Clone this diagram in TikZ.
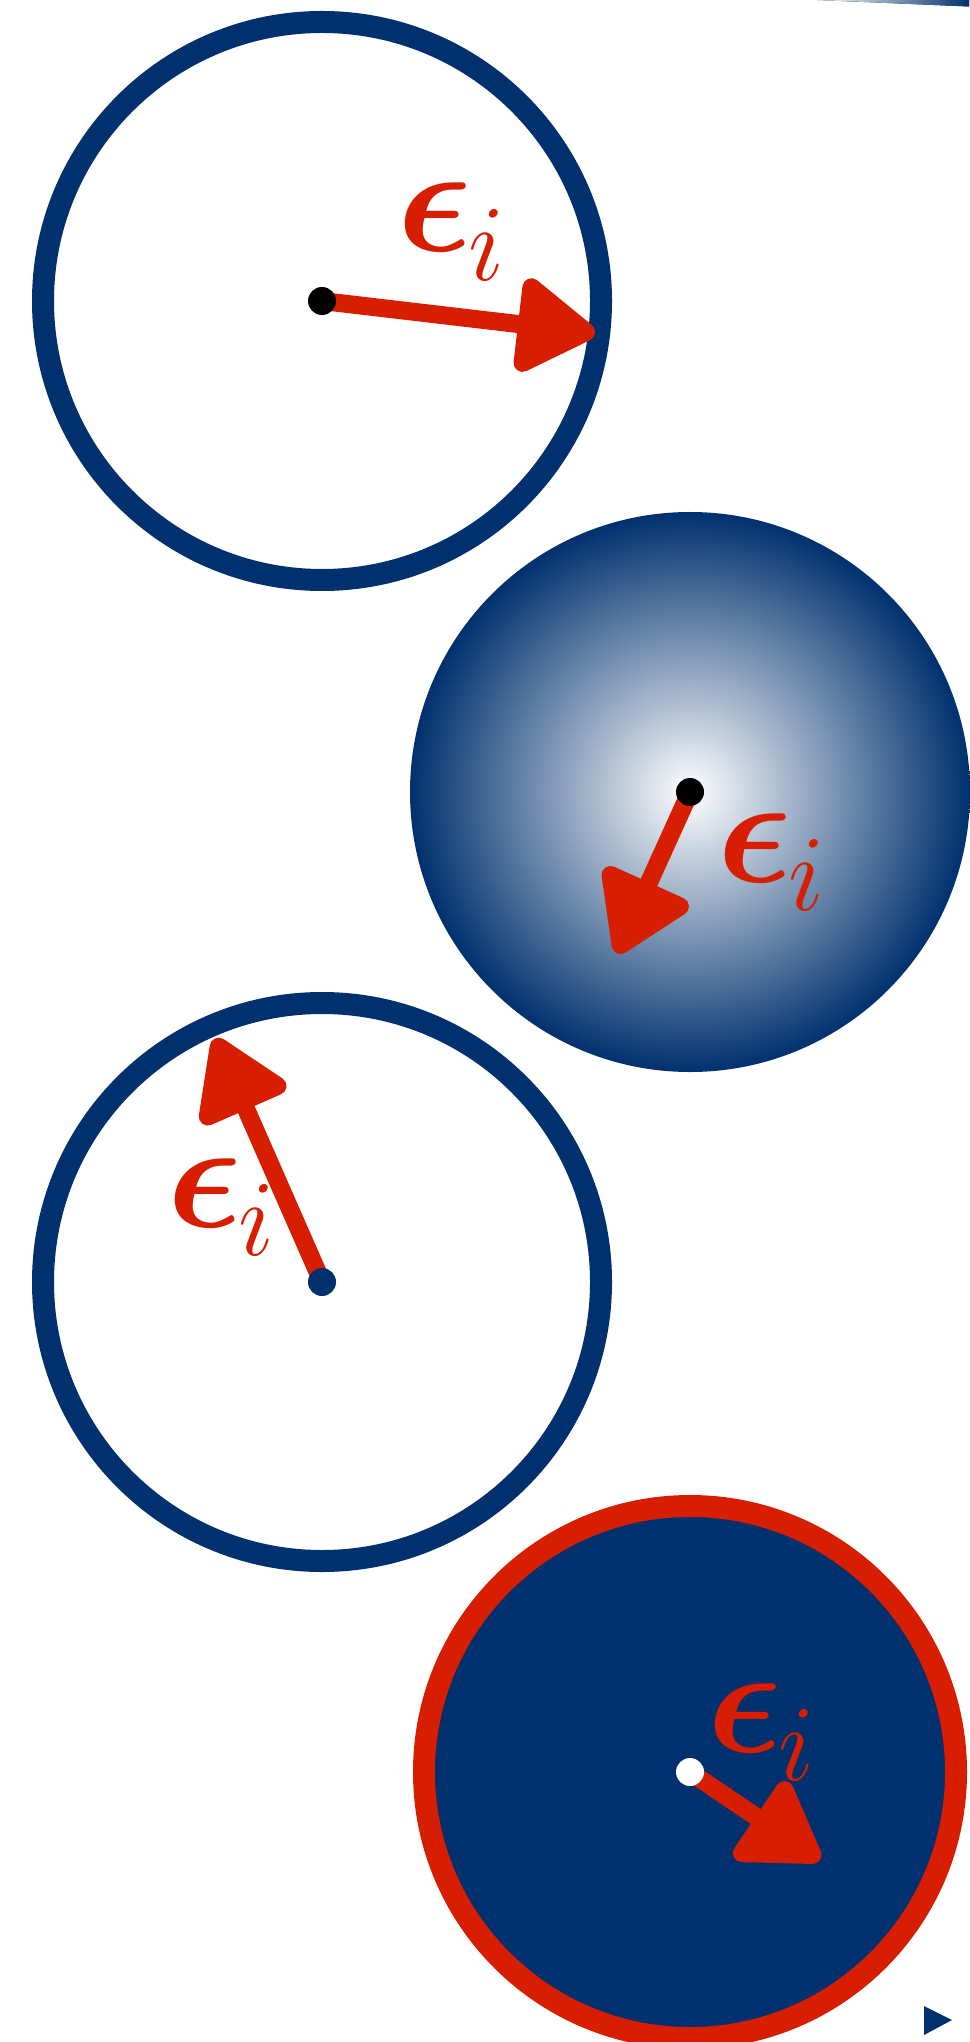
\RequirePackage{fix-cm}
\documentclass[tikz,border=0pt]{standalone}
\usepackage{amsmath, amssymb}
\usepackage{tikz}
\usetikzlibrary{arrows.meta, calc, positioning}

\definecolor{navy}{RGB}{0,49,110}
\definecolor{vecred}{RGB}{215,30,0}

\newcommand{\epsi}{$\boldsymbol{\epsilon}\kern-1pt_{\lower1.5pt\hbox{$\scriptstyle i$}}$}

\begin{document}
\begin{tikzpicture}[>=Stealth]
        % --- STILI ---
        \tikzset{
            ring/.style={draw=navy, circle, line width=0.22cm, minimum size=5.58cm, inner sep=0pt},
            ball/.style={circle, minimum size=5.6cm, inner sep=0pt, inner color=white, outer color=navy},
            redring/.style={draw=vecred, fill=navy, circle, line width=0.22cm, minimum size=5.32cm, inner sep=0pt},
            dot/.style={circle, inner sep=0pt, minimum size=0.28cm},
            vec/.style={draw=vecred, line width=0.18cm, -{Triangle[length=0.86cm, width=1.04cm, round]}},
            lbl/.style={text=vecred, inner sep=0pt, anchor=base west, font=\fontsize{44}{50}\selectfont}
        }
        \useasboundingbox (0,0) rectangle (9.69,-20.42);

        % --- SFERE ---
        \node [ring] (ring1) at (3.22,-3.01) {};
        \node [ball] (ball2) at (6.90,-7.92) {};
        \node [ring] (ring3) at (3.22,-12.82) {};
        \node [redring] (ring4) at (6.90,-17.72) {};

        % --- PUNTE DEI VETTORI ---
        \coordinate (tip1) at ($(ring1.center)+(-6.7:2.75)$);
        \coordinate (tip2) at ($(ball2.center)+(-114.4:1.77)$);
        \coordinate (tip3) at ($(ring3.center)+(113.7:2.66)$);
        \coordinate (tip4) at ($(ring4.center)+(-34.1:1.57)$);

        \draw [vec] (ring1.center) -- (tip1);
        \draw [vec] (ball2.center) -- (tip2);
        \draw [vec] (ring3.center) -- (tip3);
        \draw [vec] (ring4.center) -- (tip4);

        % --- CENTRI ---
        \node [dot, fill=black] (c1) at (ring1.center) {};
        \node [dot, fill=black] (c2) at (ball2.center) {};
        \node [dot, fill=navy] (c3) at (ring3.center) {};
        \node [dot, fill=white] (c4) at (ring4.center) {};

        % --- ETICHETTE ---
        \node [lbl] (lab1) at (3.97,-2.52) {\epsi};
        \node [lbl] (lab2) at (7.17,-8.82) {\epsi};
        \node [lbl] (lab3) at (1.67,-12.27) {\epsi};
        \node [lbl] (lab4) at (7.07,-17.52) {\epsi};

        % --- BORDI ---
        \fill [left color=white, middle color=navy, right color=navy] (8.17,0) -- (9.69,-0.065) -- (9.69,0.1) -- (8.17,0.1) -- cycle;
        \fill [navy] (9.24,-20.06) -- (9.52,-20.20) -- (9.24,-20.35) -- cycle;

    \end{tikzpicture}
\end{document}
